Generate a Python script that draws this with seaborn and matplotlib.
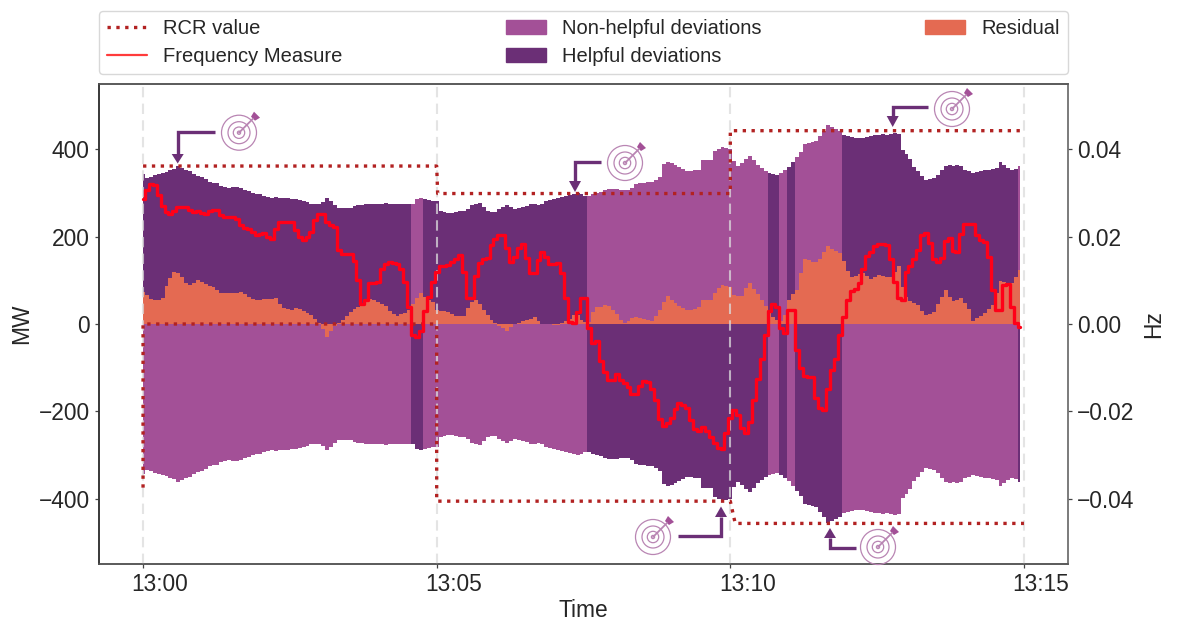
import numpy as np
import pandas as pd
import matplotlib
matplotlib.use("Agg")
import matplotlib.pyplot as plt
import matplotlib.dates as mdates
from matplotlib.lines import Line2D
from matplotlib.patches import Circle, Patch, Polygon
from matplotlib.transforms import ScaledTranslation
import seaborn as sns

# Reserve envelope in MW, one value every 4 seconds (upper and lower side mirror each other)
envelope = [
    344, 335, 338, 341, 344, 346, 349, 352, 355, 361,
    358, 354, 351, 344, 339, 336, 332, 325, 323, 322,
    316, 315, 312, 313, 315, 312, 308, 305, 301, 299,
    297, 294, 291, 289, 290, 289, 288, 288, 287, 286,
    285, 283, 280, 275, 274, 275, 279, 288, 281, 272,
    266, 265, 265, 266, 270, 272, 272, 274, 275, 276,
    276, 275, 277, 276, 275, 274, 274, 275, 274, 275,
    286, 289, 286, 284, 282, 281, 259, 257, 255, 254,
    256, 258, 260, 263, 272, 274, 277, 268, 260, 256,
    257, 264, 268, 273, 268, 264, 265, 268, 271, 274,
    274, 273, 276, 281, 284, 287, 289, 291, 294, 296,
    298, 300, 297, 294, 294, 297, 300, 303, 306, 309,
    310, 309, 308, 307, 308, 312, 320, 322, 323, 325,
    326, 330, 336, 367, 372, 368, 365, 360, 355, 350,
    350, 352, 354, 376, 376, 375, 396, 401, 405, 403,
    401, 374, 361, 368, 378, 385, 375, 365, 357, 350,
    346, 344, 342, 346, 352, 360, 372, 382, 395, 413,
    415, 417, 420, 430, 442, 455, 451, 447, 442, 434,
    430, 428, 427, 427, 427, 429, 430, 432, 434, 436,
    433, 436, 438, 436, 399, 390, 378, 360, 350, 340,
    331, 332, 335, 341, 352, 362, 364, 363, 364, 361,
    354, 350, 346, 348, 351, 353, 354, 355, 358, 371,
    364, 358, 352, 356, 363,
]

# Residual in MW
residual = [
    74, 66, 57, 55, 56, 60, 88, 105, 120, 116,
    108, 94, 90, 95, 100, 96, 92, 87, 84, 78,
    72, 70, 70, 70, 72, 73, 68, 62, 57, 56,
    55, 57, 58, 58, 60, 46, 36, 35, 33, 36,
    35, 30, 25, 20, 12, 3, -12, -29, -15, -4,
    2, 10, 19, 27, 35, 40, 47, 52, 57, 55,
    50, 45, 42, 30, 24, 18, 22, 26, 32, 45,
    60, 70, 62, 54, 50, 33, 30, 29, 27, 23,
    18, 18, 18, 36, 50, 55, 45, 32, 20, 10,
    3, -4, -10, -15, -7, 0, 3, 6, 9, 12,
    15, 8, 1, 0, -1, -2, -2, 2, 6, 12,
    20, 20, 10, 4, 5, 28, 38, 40, 43, 42,
    32, 22, 10, 2, 8, 14, 17, 14, 11, 9,
    8, 18, 32, 50, 64, 54, 47, 42, 37, 33,
    33, 34, 38, 56, 56, 55, 72, 82, 89, 86,
    85, 66, 64, 64, 82, 93, 80, 68, 55, 42,
    30, 17, 10, 6, 20, 55, 68, 78, 118, 150,
    146, 142, 142, 150, 165, 178, 172, 167, 162, 145,
    122, 108, 110, 114, 117, 110, 104, 108, 112, 110,
    108, 108, 120, 133, 85, 62, 52, 48, 43, 30,
    20, 24, 28, 45, 62, 78, 62, 52, 56, 59,
    48, 34, 8, 13, 18, 25, 35, 43, 70, 98,
    96, 94, 93, 108, 123,
]

# Frequency measure in units of 0.0001 Hz
freq_e4 = [
    287, 306, 320, 318, 296, 270, 257, 253, 258, 267,
    268, 268, 262, 257, 258, 255, 251, 258, 262, 262,
    250, 245, 245, 245, 240, 226, 221, 218, 210, 203,
    206, 209, 200, 194, 218, 234, 234, 234, 234, 215,
    200, 192, 200, 211, 238, 253, 253, 234, 228, 222,
    170, 161, 161, 161, 145, 100, 46, 55, 93, 95,
    97, 125, 137, 142, 140, 137, 125, 97, 40, -25,
    -29, -15, 30, 62, 97, 120, 133, 134, 135, 142,
    150, 158, 120, 60, 59, 110, 140, 148, 151, 180,
    194, 203, 203, 174, 142, 154, 174, 183, 151, 117,
    117, 146, 164, 154, 137, 138, 140, 116, 60, 5,
    2, 28, 59, 59, -9, -44, -40, -85, -110, -128,
    -128, -114, -128, -135, -145, -160, -160, -143, -130, -132,
    -148, -175, -218, -233, -228, -215, -195, -180, -185, -192,
    -220, -240, -246, -236, -245, -258, -272, -284, -286, -250,
    -215, -198, -208, -238, -250, -225, -175, -125, -80, -25,
    30, 46, 40, -10, -20, 32, 32, -60, -100, -120,
    -121, -122, -170, -192, -197, -150, -105, -80, -25, 15,
    55, 75, 80, 95, 125, 155, 165, 178, 183, 183,
    180, 150, 97, 60, 55, 120, 132, 150, 169, 203,
    209, 185, 150, 142, 152, 190, 198, 167, 164, 206,
    229, 230, 230, 205, 192, 187, 154, 78, 32, 32,
    89, 91, 40, 3, -8,
]

# RCR value lines: seconds after 13:00 and MW
rcr_up_sec = [0, 300, 301, 600, 600, 900]
rcr_up_mw = [362, 362, 299, 299, 443, 443]
rcr_low_sec = [0, 0, 300, 300, 600, 605, 900]
rcr_low_mw = [-375, 0, 0, -406, -406, -457, -457]

tick_times = ["13:00", "13:05", "13:10", "13:15"]

dark = "#6b2f76"
light = "#a35097"
orange = "#e46a52"
rcr_red = "#b22222"
icon_line = "#b985b3"
font_size = 16.4

start = pd.Timestamp("2024-01-01 13:00:00")


def to_time(seconds):
    return start + pd.to_timedelta(seconds, unit="s")


envelope = np.array(envelope, dtype=float)
residual = np.array(residual, dtype=float)
freq_hz = np.array(freq_e4) / 1e4
sec = np.arange(len(envelope)) * 4

# each value holds for 4 s, centred on its time stamp. Double the points so the
# colour changes fall exactly on the cell edges
edges = np.concatenate([[0], sec[1:] - 2, [sec[-1]]])
cell_sec = np.column_stack([edges[:-1], edges[1:]]).ravel()
cell_time = to_time(cell_sec)
cell_env = np.repeat(envelope, 2)
cell_res = np.repeat(residual, 2)
up_is_helpful = np.repeat(freq_hz > 0, 2)

sns.set_theme(style="ticks")
plt.rcParams["font.family"] = ["Liberation Sans", "DejaVu Sans"]

fig, ax = plt.subplots(figsize=(11.77, 6.21), dpi=100)
fig.subplots_adjust(left=99 / 1177, right=1068 / 1177, top=1 - 84 / 621, bottom=1 - 564 / 621)

# deviations above and below zero, coloured by the sign of the frequency
ax.fill_between(cell_time, 0, cell_env, where=up_is_helpful, color=dark, lw=0, zorder=1)
ax.fill_between(cell_time, 0, cell_env, where=~up_is_helpful, color=light, lw=0, zorder=1)
ax.fill_between(cell_time, 0, -cell_env, where=up_is_helpful, color=light, lw=0, zorder=1)
ax.fill_between(cell_time, 0, -cell_env, where=~up_is_helpful, color=dark, lw=0, zorder=1)
ax.fill_between(cell_time, 0, cell_res, color=orange, lw=0, zorder=2)

for t in tick_times:
    ax.axvline(pd.Timestamp("2024-01-01 " + t), color="#dcdcdc", lw=1.5, ls=(0, (5, 3)), alpha=0.75, zorder=3)

rcr_up = pd.DataFrame({"time": to_time(np.array(rcr_up_sec)), "mw": rcr_up_mw})
rcr_low = pd.DataFrame({"time": to_time(np.array(rcr_low_sec)), "mw": rcr_low_mw})
sns.lineplot(data=rcr_up, x="time", y="mw", color=rcr_red, sort=False, errorbar=None, estimator=None, ax=ax, zorder=4)
sns.lineplot(data=rcr_low, x="time", y="mw", color=rcr_red, sort=False, errorbar=None, estimator=None, ax=ax, zorder=4)
for line in ax.get_lines()[-2:]:
    line.set_linewidth(2.4)
    line.set_linestyle((0, (1, 1.65)))

ax.set_xlim(to_time(-45), to_time(945))
ax.set_ylim(-550, 550)
ax.set_yticks([-400, -200, 0, 200, 400])
ax.set_xticks([pd.Timestamp("2024-01-01 " + t) for t in tick_times])
ax.xaxis.set_major_formatter(mdates.DateFormatter("%H:%M"))
ax.set_xlabel("Time", fontsize=font_size, labelpad=2)
ax.set_ylabel("MW", fontsize=font_size)
ax.tick_params(labelsize=font_size, length=3.2, width=0.9, pad=3.5, color="#444444")

# x labels sit a bit to the right of their ticks
label_shift = ScaledTranslation(17 / 100, 0, fig.dpi_scale_trans)
for lab in ax.get_xticklabels():
    lab.set_transform(lab.get_transform() + label_shift)

# frequency on its own axis
ax2 = ax.twinx()
freq_df = pd.DataFrame({"time": to_time(sec), "hz": freq_hz})
sns.lineplot(data=freq_df, x="time", y="hz", color="#ff0018", lw=2.4, drawstyle="steps-mid", errorbar=None, estimator=None, ax=ax2)
ax2.set_ylim(-0.055, 0.055)
ax2.set_yticks([-0.04, -0.02, 0, 0.02, 0.04])
ax2.set_yticklabels(["\u22120.04", "\u22120.02", "0.00", "0.02", "0.04"])
ax2.set_ylabel("Hz", fontsize=font_size, labelpad=5.5)
ax2.tick_params(labelsize=font_size, length=3.2, width=0.9, pad=3.5, color="#444444")
spine_colors = {"left": "#333333", "top": "#555555", "bottom": "#555555", "right": "#777777"}
for a in [ax, ax2]:
    for name, s in a.spines.items():
        s.set_color(spine_colors[name])
        s.set_linewidth(1.1)

handles = [
    Line2D([], [], color=rcr_red, lw=2.4, ls=":"),
    Line2D([], [], color="#ff3b3b", lw=1.6),
    Patch(color=light),
    Patch(color=dark),
    Patch(color=orange),
]
labels = ["RCR value", "Frequency Measure", "Non-helpful deviations", "Helpful deviations", "Residual"]
ax2.legend(handles, labels, loc="lower left", bbox_to_anchor=(0, 1.02, 1, 0.2), mode="expand", ncol=3,
           fontsize=14.5, borderaxespad=0, labelspacing=0.45, frameon=True, edgecolor="#d8d8d8", framealpha=1)

# overlay in pixel coordinates for the target icons and their arrows
over = fig.add_axes([0, 0, 1, 1], zorder=10)
over.set_xlim(0, 1177)
over.set_ylim(621, 0)
over.axis("off")


def draw_target(cx, cy):
    for r, lw in [(17.5, 0.9), (11, 0.9), (5.7, 0.9), (1.6, 0.9)]:
        over.add_patch(Circle((cx, cy), r, fill=False, ec=icon_line, lw=lw))
    over.plot([cx, cx + 14], [cy, cy - 14], color=icon_line, lw=1.3)
    over.add_patch(Polygon([(cx + 12, cy - 16), (cx + 15, cy - 21), (cx + 21, cy - 15), (cx + 16, cy - 12)], color=light, lw=0))


def draw_arrow(points, tip):
    xs = [p[0] for p in points]
    ys = [p[1] for p in points]
    over.plot(xs, ys, color=dark, lw=2.4, solid_joinstyle="miter", solid_capstyle="butt")
    ex, ey = points[-1]
    if ex == tip[0]:
        head = [(ex - 6, ey), (ex + 6, ey), tip]
    else:
        head = [(ex, ey - 6), (ex, ey + 6), tip]
    over.add_patch(Polygon(head, color=dark, lw=0))


draw_target(239, 132.7)
draw_arrow([(215, 132.3), (177.7, 132.3), (177.7, 154)], (177.7, 163.5))
draw_target(625, 163)
draw_arrow([(601, 161.7), (575, 161.7), (575, 181)], (575, 192))
draw_target(952, 109)
draw_arrow([(928, 107.3), (892.7, 107.3), (892.7, 116)], (892.7, 127))
draw_target(653, 537)
draw_arrow([(678, 536), (721, 536), (721, 517)], (721, 506.5))
draw_target(878, 547)
draw_arrow([(855.7, 547.7), (830, 547.7), (830, 538)], (830, 528))

fig.savefig("out.png", dpi=100)
